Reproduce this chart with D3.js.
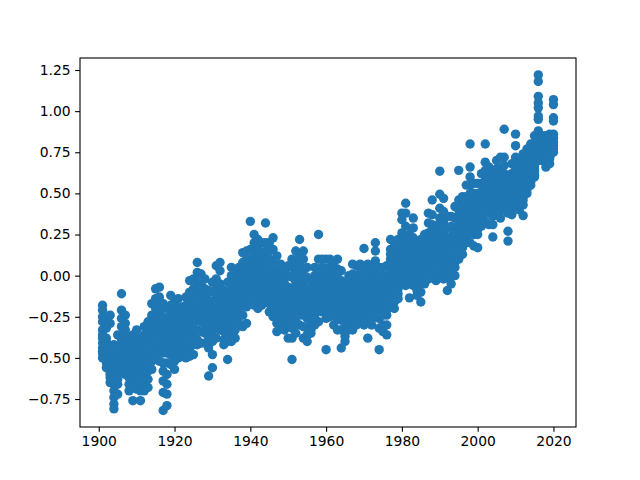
<!DOCTYPE html>
<html>
<head>
<meta charset="utf-8">
<script src="https://cdn.jsdelivr.net/npm/d3@7"></script>
<style>
  html, body { margin: 0; padding: 0; background: #fff; }
  text { font-family: "DejaVu Sans", sans-serif; }
</style>
</head>
<body>
<div id="chart"></div>
<script>
const firstYear = 1901;

// monthly anomalies, one row per year
const anomalies1900s = [
  [-.18,-.21,-.25,-.33,-.36,-.41,-.44,-.47,-.5,-.38,-.28,-.46],
  [-.27,-.32,-.4,-.43,-.48,-.53,-.56,-.45,-.38,-.5,-.42,-.47],
  [-.24,-.29,-.46,-.5,-.55,-.58,-.62,-.65,-.52,-.47,-.57,-.6],
  [-.42,-.5,-.56,-.6,-.66,-.7,-.74,-.78,-.81,-.53,-.63,-.58],
  [-.36,-.43,-.47,-.52,-.56,-.6,-.66,-.72,-.5,-.54,-.63,-.58],
  [-.11,-.21,-.26,-.31,-.36,-.42,-.47,-.53,-.58,-.39,-.45,-.5],
  [-.24,-.29,-.33,-.39,-.44,-.5,-.55,-.6,-.37,-.47,-.52,-.42],
  [-.38,-.44,-.5,-.54,-.57,-.62,-.66,-.7,-.48,-.6,-.52,-.56],
  [-.36,-.42,-.48,-.53,-.58,-.63,-.68,-.76,-.5,-.56,-.6,-.45],
  [-.33,-.4,-.46,-.5,-.55,-.6,-.65,-.69,-.52,-.43,-.58,-.48]
];
const anomalies1910s = [
  [-.38,-.44,-.5,-.55,-.6,-.65,-.7,-.76,-.53,-.47,-.58,-.62],
  [-.31,-.36,-.44,-.5,-.56,-.61,-.66,-.7,-.47,-.53,-.4,-.58],
  [-.28,-.33,-.4,-.46,-.52,-.58,-.63,-.68,-.36,-.43,-.49,-.55],
  [-.17,-.24,-.3,-.36,-.42,-.47,-.52,-.57,-.33,-.39,-.44,-.28],
  [-.08,-.14,-.2,-.26,-.31,-.37,-.43,-.49,-.23,-.34,-.4,-.28],
  [-.07,-.13,-.18,-.25,-.3,-.36,-.42,-.47,-.52,-.33,-.22,-.39],
  [-.17,-.25,-.34,-.4,-.47,-.53,-.58,-.64,-.71,-.82,-.44,-.3],
  [-.2,-.27,-.33,-.4,-.47,-.53,-.6,-.66,-.72,-.79,-.37,-.44],
  [-.12,-.18,-.25,-.31,-.37,-.42,-.48,-.54,-.34,-.28,-.22,-.4],
  [-.16,-.22,-.28,-.34,-.4,-.46,-.52,-.57,-.31,-.37,-.25,-.43]
];
const anomalies1920s = [
  [-.14,-.2,-.26,-.3,-.35,-.4,-.45,-.5,-.33,-.23,-.38,-.28],
  [-.19,-.24,-.3,-.36,-.42,-.47,-.49,-.33,-.27,-.39,-.44,-.22],
  [-.13,-.18,-.24,-.3,-.36,-.41,-.47,-.5,-.27,-.33,-.39,-.21],
  [-.03,-.1,-.17,-.24,-.31,-.38,-.44,-.49,-.21,-.28,-.35,-.14],
  [-.02,-.08,-.15,-.22,-.29,-.35,-.42,-.48,-.19,-.26,-.32,-.12],
  [.08,.02,-.04,-.1,-.16,-.21,-.27,-.33,-.39,-.42,-.24,-.13],
  [.01,-.05,-.11,-.17,-.23,-.28,-.34,-.41,-.2,-.26,-.08,-.15],
  [-.02,-.08,-.13,-.18,-.24,-.3,-.35,-.41,-.21,-.27,-.15,-.11],
  [-.09,-.15,-.21,-.27,-.33,-.39,-.44,-.61,-.24,-.3,-.18,-.36],
  [-.04,-.1,-.16,-.22,-.28,-.34,-.4,-.48,-.56,-.25,-.19,-.31]
];
const anomalies1930s = [
  [.06,-.02,-.08,-.14,-.2,-.26,-.32,-.38,-.17,-.23,-.11,-.29],
  [.08,.03,-.05,-.11,-.17,-.22,-.28,-.33,-.14,-.2,-.08,-.25],
  [-.09,-.14,-.19,-.24,-.29,-.34,-.39,-.42,-.22,-.27,-.17,-.31],
  [-.04,-.1,-.16,-.22,-.28,-.34,-.4,-.51,-.19,-.25,-.13,-.31],
  [.05,0,-.06,-.12,-.18,-.24,-.3,-.36,-.4,-.15,-.21,-.09],
  [.03,-.03,-.09,-.15,-.21,-.27,-.33,-.38,-.12,-.18,-.06,-.24],
  [.05,0,-.05,-.1,-.15,-.2,-.25,-.29,-.08,-.13,-.03,-.18],
  [.14,.08,.03,-.03,-.08,-.13,-.18,-.24,-.31,-.06,-.11,.01],
  [.15,.1,.04,-.02,-.08,-.13,-.19,-.29,-.05,-.11,.01,-.16],
  [.33,.16,.1,.05,0,-.05,-.1,-.15,.02,-.03,.07,-.08]
];
const anomalies1940s = [
  [.25,.2,.14,.08,.03,-.02,-.07,-.12,-.18,.05,.11,-.04],
  [.22,.16,.1,.05,0,-.05,-.1,-.15,-.2,.02,.07,-.08],
  [.2,.14,.08,.03,-.02,-.07,-.12,-.18,0,.05,-.05,-.1],
  [.32,.2,.15,.1,.05,0,-.05,-.1,-.14,.03,.08,-.02],
  [.2,.15,.1,.04,-.02,-.07,-.12,-.17,-.22,0,-.05,-.1],
  [.23,.16,.09,.03,-.03,-.09,-.14,-.19,-.25,-.06,-.12,0],
  [.12,.06,0,-.06,-.12,-.18,-.24,-.29,-.34,-.09,-.15,-.21],
  [.07,.02,-.04,-.1,-.15,-.2,-.25,-.3,-.07,-.13,-.18,-.23],
  [.03,-.02,-.08,-.14,-.2,-.26,-.31,-.33,-.11,-.17,-.23,-.05],
  [.06,0,-.07,-.13,-.19,-.25,-.3,-.38,-.1,-.16,-.22,-.28]
];
const anomalies1950s = [
  [.1,.05,-.01,-.08,-.14,-.2,-.26,-.32,-.38,-.51,-.11,-.17],
  [.15,.09,.03,-.04,-.1,-.16,-.22,-.28,-.35,-.07,-.13,-.19],
  [.22,.13,.07,0,-.06,-.12,-.18,-.24,-.3,-.03,-.09,-.15],
  [.15,.1,.03,-.04,-.1,-.17,-.24,-.31,-.38,-.07,-.14,-.21],
  [.05,-.01,-.08,-.14,-.2,-.26,-.32,-.36,-.4,-.11,-.17,-.23],
  [-.03,-.08,-.13,-.18,-.23,-.28,-.33,-.35,-.11,-.16,-.21,-.26],
  [.05,0,-.06,-.12,-.18,-.24,-.3,-.09,-.15,-.21,-.03,-.27],
  [.25,.1,.04,-.02,-.08,-.14,-.2,-.28,-.05,-.11,-.17,.01],
  [.1,.05,0,-.05,-.1,-.15,-.22,.02,-.03,-.08,-.13,-.18],
  [.1,.04,-.02,-.08,-.14,-.2,-.26,-.45,.01,-.05,-.11,-.17]
];
const anomalies1960s = [
  [.1,.05,-.01,-.07,-.13,-.19,-.25,.02,-.04,-.1,-.16,-.22],
  [.08,.03,-.03,-.09,-.15,-.21,-.3,0,-.06,-.12,-.18,-.24],
  [.1,.04,-.02,-.08,-.14,-.2,-.26,-.33,.01,-.05,-.11,-.17],
  [.03,-.03,-.09,-.15,-.21,-.27,-.33,-.44,-.06,-.12,-.18,-.24],
  [-.07,-.12,-.17,-.22,-.27,-.32,-.37,-.4,-.15,-.2,-.25,-.3],
  [0,-.06,-.12,-.18,-.24,-.3,-.33,-.09,-.15,-.21,-.27,-.03],
  [.07,.01,-.05,-.11,-.17,-.23,-.29,-.33,-.08,-.14,-.2,-.26],
  [.06,0,-.06,-.12,-.18,-.24,-.3,-.03,-.09,-.15,-.21,-.27],
  [.07,.02,-.04,-.1,-.15,-.2,-.26,0,-.07,-.12,-.18,-.23],
  [.165,.05,0,-.06,-.12,-.18,-.24,-.3,-.03,-.09,-.15,-.21]
];
const anomalies1970s = [
  [.07,.02,-.04,-.1,-.16,-.22,-.28,-.38,-.01,-.07,-.13,-.19],
  [.02,-.04,-.1,-.15,-.2,-.25,-.3,-.07,-.12,-.17,-.22,-.27],
  [.2,.15,.09,.03,-.03,-.09,-.14,-.2,.06,0,-.06,-.12],
  [.05,-.01,-.08,-.14,-.2,-.26,-.32,-.45,-.05,-.11,-.17,-.23],
  [.05,0,-.06,-.12,-.18,-.24,-.3,-.34,-.03,-.09,-.15,-.21],
  [.06,0,-.06,-.12,-.18,-.24,-.3,-.36,-.03,-.09,-.15,-.21],
  [.22,.16,.1,.05,0,-.05,-.1,-.14,.13,.07,.02,-.03],
  [.2,.14,.08,.02,-.04,-.1,-.16,-.2,.11,.05,-.01,-.07],
  [.22,.16,.1,.04,-.02,-.08,-.14,.13,.07,.01,-.05,-.11],
  [.38,.34,.26,.2,.14,.08,.02,-.04,.17,.11,.05,-.01]
];
const anomalies1980s = [
  [.44,.38,.3,.24,.18,.12,.06,0,-.06,.21,.15,.09],
  [.25,.19,.13,.07,.01,-.05,-.135,.16,.1,.04,-.02,.22],
  [.35,.29,.23,.17,.11,.05,-.01,-.06,.2,.14,.08,.02],
  [.2,.15,.1,.05,0,-.06,-.12,.13,.08,.03,-.03,-.09],
  [.22,.16,.1,.05,0,-.05,-.1,-.16,.13,.08,.03,-.03],
  [.25,.2,.14,.09,.04,-.01,-.05,.17,.11,.06,.01,.22],
  [.38,.32,.26,.2,.14,.08,.02,-.02,.23,.17,.11,.05],
  [.46,.37,.31,.25,.19,.13,.07,.01,.28,.22,.16,.1],
  [.3,.25,.19,.13,.07,.01,-.03,.22,.16,.1,.04,-.01],
  [.635,.495,.41,.35,.29,.23,.17,.11,.05,0,.32,.2]
];
const anomalies1990s = [
  [.47,.39,.33,.27,.21,.15,.09,.03,-.02,.3,.24,.12],
  [.36,.29,.23,.17,.11,.05,-.01,-.09,.2,.14,.08,.02],
  [.36,.3,.24,.18,.12,.06,0,-.05,.21,.15,.09,.03],
  [.42,.35,.29,.23,.17,.11,.05,0,.26,.2,.14,.08],
  [.64,.46,.4,.34,.28,.22,.16,.1,.37,.31,.25,.19],
  [.48,.42,.37,.32,.27,.22,.17,.13,.35,.3,.25,.2],
  [.55,.48,.43,.38,.33,.28,.23,.2,.41,.36,.31,.26],
  [.8,.66,.6,.55,.5,.44,.38,.32,.26,.2,.47,.35],
  [.56,.5,.45,.4,.35,.3,.25,.18,.43,.38,.33,.28],
  [.56,.5,.45,.4,.35,.3,.25,.17,.43,.38,.33,.28]
];
const anomalies2000s = [
  [.62,.56,.51,.47,.43,.39,.35,.3,.49,.45,.41,.37],
  [.8,.69,.64,.58,.53,.48,.43,.33,.56,.51,.46,.41],
  [.66,.6,.55,.5,.46,.42,.38,.31,.53,.48,.44,.4],
  [.62,.56,.51,.46,.42,.38,.31,.235,.49,.44,.4,.36],
  [.7,.65,.6,.55,.5,.45,.4,.38,.58,.53,.48,.43],
  [.72,.65,.6,.55,.5,.45,.4,.35,.58,.53,.48,.43],
  [.89,.72,.67,.62,.57,.52,.47,.4,.6,.55,.5,.45],
  [.58,.52,.47,.43,.39,.38,.27,.21,.5,.45,.41,.4],
  [.68,.62,.57,.52,.47,.42,.37,.6,.55,.5,.45,.4],
  [.86,.79,.72,.67,.62,.57,.52,.47,.65,.6,.55,.5]
];
const anomalies2010s = [
  [.7,.65,.6,.55,.5,.45,.4,.63,.58,.53,.48,.43],
  [.74,.68,.63,.58,.53,.48,.43,.365,.61,.56,.51,.46],
  [.77,.71,.66,.62,.58,.54,.5,.69,.64,.6,.56,.52],
  [.8,.75,.7,.66,.62,.58,.55,.73,.68,.64,.6,.57],
  [.85,.8,.75,.71,.67,.63,.6,.78,.73,.69,.65,.61],
  [1.22,1.18,1.09,1.05,1.02,.97,.95,.88,.83,.78,.74,.7],
  [.85,.81,.78,.75,.72,.7,.83,.8,.76,.73,.71,.79],
  [.85,.81,.78,.75,.72,.69,.66,.83,.8,.76,.73,.7],
  [.86,.83,.8,.77,.74,.71,.68,.84,.81,.78,.75,.72],
  [1.07,1.04,.96,.94,.86,.84,.81,.79,.77,.75,.83,.8]
];

const xTicks = [1900, 1920, 1940, 1960, 1980, 2000, 2020];
const yTicks = [-0.75, -0.5, -0.25, 0, 0.25, 0.5, 0.75, 1, 1.25];

const width = 640, height = 480;
const margin = { top: 58, right: 64, bottom: 53, left: 80 };

const rows = [].concat(anomalies1900s, anomalies1910s, anomalies1920s, anomalies1930s,
  anomalies1940s, anomalies1950s, anomalies1960s, anomalies1970s, anomalies1980s,
  anomalies1990s, anomalies2000s, anomalies2010s);

const points = [];
rows.forEach((row, i) => {
  row.forEach(v => points.push({ year: firstYear + i, value: v }));
});

const x = d3.scaleLinear()
  .domain([1895.05, 2025.95])
  .range([margin.left, width - margin.right]);

const y = d3.scaleLinear()
  .domain([-0.92, 1.323])
  .range([height - margin.bottom, margin.top]);

const svg = d3.select("#chart")
  .append("svg")
  .attr("width", width)
  .attr("height", height)
  .style("display", "block");

// Add dots
svg.append("g")
  .selectAll("circle")
  .data(points)
  .enter()
  .append("circle")
  .attr("cx", d => x(d.year))
  .attr("cy", d => y(d.value))
  .attr("r", 4.7)
  .style("fill", "#1f77b4");

// Add x-axis
const xAxis = svg.append("g")
  .attr("transform", `translate(0,${height - margin.bottom})`)
  .call(d3.axisBottom(x).tickValues(xTicks).tickFormat(d3.format("d")).tickSize(4.86).tickPadding(4.5));

// Add y-axis
const yAxis = svg.append("g")
  .attr("transform", `translate(${margin.left},0)`)
  .call(d3.axisLeft(y).tickValues(yTicks).tickFormat(d3.format(".2f")).tickSize(4.86).tickPadding(4.5));

[xAxis, yAxis].forEach(axis => {
  axis.select(".domain").remove();
  axis.selectAll("line").attr("stroke", "#000").attr("stroke-width", 1.1);
  axis.selectAll("text")
    .attr("fill", "#000")
    .style("font-size", "13.89px")
    .style("font-family", '"DejaVu Sans", sans-serif');
});

// Frame around the plot
svg.append("rect")
  .attr("x", margin.left)
  .attr("y", margin.top)
  .attr("width", width - margin.left - margin.right)
  .attr("height", height - margin.top - margin.bottom)
  .attr("fill", "none")
  .attr("stroke", "#000")
  .attr("stroke-width", 1.1);
</script>
</body>
</html>
